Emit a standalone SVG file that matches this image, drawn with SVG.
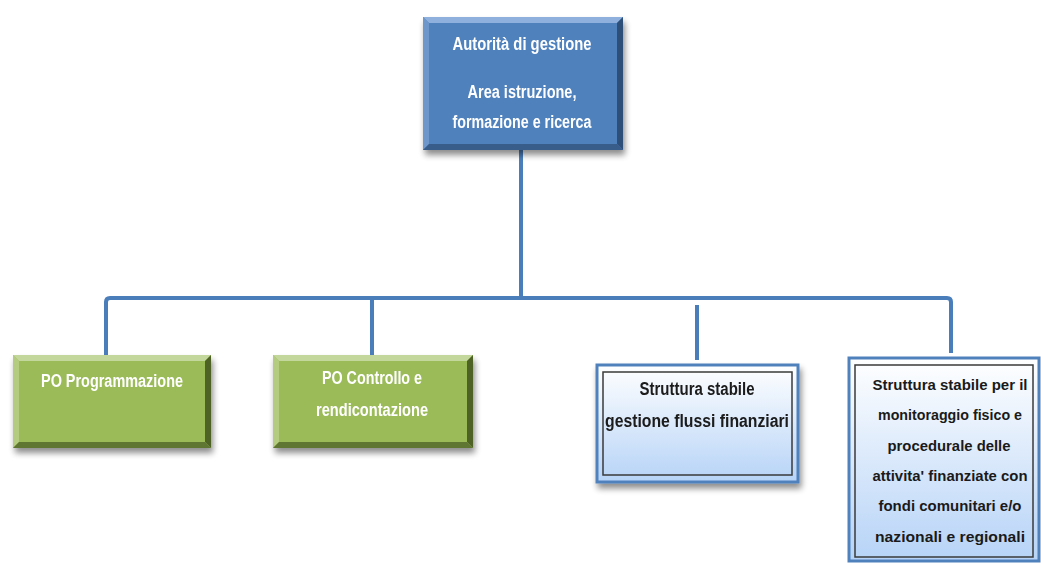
<svg xmlns="http://www.w3.org/2000/svg" width="1041" height="563" viewBox="0 0 1041 563">
<defs>
<filter id="sh" x="-10%" y="-10%" width="130%" height="130%">
<feGaussianBlur in="SourceAlpha" stdDeviation="3"/>
<feOffset dx="2" dy="5" result="b"/>
<feComponentTransfer><feFuncA type="linear" slope="0.45"/></feComponentTransfer>
<feMerge><feMergeNode/><feMergeNode in="SourceGraphic"/></feMerge>
</filter>
<linearGradient id="lb" x1="0" y1="0" x2="0" y2="1">
<stop offset="0" stop-color="#ffffff"/>
<stop offset="1" stop-color="#b6d3f7"/>
</linearGradient>
<style>
.w{fill:#ffffff;font-family:"Liberation Sans",Arial,sans-serif;font-weight:bold;font-size:18px;text-anchor:middle}
.d{fill:#1a1a1a;font-family:"Liberation Sans",Arial,sans-serif;font-weight:bold;font-size:18px;text-anchor:middle}
.s{font-size:15px}
.con{fill:none;stroke:#4a7ebb;stroke-width:4;stroke-linejoin:round;stroke-linecap:butt}
</style>
</defs>
<rect width="1041" height="563" fill="#ffffff"/>

<g id="connectors">
<path class="con" d="M521,150 V298"/>
<path class="con" d="M106,356 V302 Q106,298 110,298 H947 Q951,298 951,302 V353"/>
<path class="con" d="M372,298 V356"/>
<path class="con" d="M697,305 V360" stroke-width="5"/>
</g>

<g id="node-autorita" filter="url(#sh)">
<rect x="423" y="17" width="200" height="133" fill="#4f81bd"/>
<polygon points="423,17 623,17 617,23 429,23" fill="#8fb0dc"/>
<polygon points="423,17 429,23 429,144 423,150" fill="#6e98cc"/>
<polygon points="623,17 623,150 617,144 617,23" fill="#2f4f77"/>
<polygon points="423,150 623,150 617,144 429,144" fill="#385d8a"/>
<text class="w" x="522" y="50" textLength="139" lengthAdjust="spacingAndGlyphs">Autorità di gestione</text>
<text class="w" x="522" y="98" textLength="109" lengthAdjust="spacingAndGlyphs">Area istruzione,</text>
<text class="w" x="522" y="128" textLength="139" lengthAdjust="spacingAndGlyphs">formazione e ricerca</text>
</g>

<g id="node-po-programmazione" filter="url(#sh)">
<rect x="13" y="355" width="198" height="93" fill="#9bbb59"/>
<polygon points="13,355 211,355 205,361 19,361" fill="#c3d69b"/>
<polygon points="13,355 19,361 19,442 13,448" fill="#b3cc80"/>
<polygon points="211,355 211,448 205,442 205,361" fill="#4f6228"/>
<polygon points="13,448 211,448 205,442 19,442" fill="#5f7530"/>
<text class="w" x="112" y="387" textLength="142" lengthAdjust="spacingAndGlyphs">PO Programmazione</text>
</g>

<g id="node-po-controllo" filter="url(#sh)">
<rect x="273" y="355" width="200" height="93" fill="#9bbb59"/>
<polygon points="273,355 473,355 467,361 279,361" fill="#c3d69b"/>
<polygon points="273,355 279,361 279,442 273,448" fill="#b3cc80"/>
<polygon points="473,355 473,448 467,442 467,361" fill="#4f6228"/>
<polygon points="273,448 473,448 467,442 279,442" fill="#5f7530"/>
<text class="w" x="372" y="384" textLength="100" lengthAdjust="spacingAndGlyphs">PO Controllo e</text>
<text class="w" x="372" y="416" textLength="112" lengthAdjust="spacingAndGlyphs">rendicontazione</text>
</g>

<g id="node-flussi" filter="url(#sh)">
<rect x="597" y="365" width="201" height="117" fill="url(#lb)" stroke="#4f81bd" stroke-width="3"/>
<rect x="603" y="372" width="189" height="103" fill="none" stroke="#3a3a3a" stroke-width="1.5"/>
<text class="d" x="697" y="395" textLength="115" lengthAdjust="spacingAndGlyphs">Struttura stabile</text>
<text class="d" x="697" y="427" textLength="184" lengthAdjust="spacingAndGlyphs">gestione flussi finanziari</text>
</g>

<g id="node-monitoraggio">
<rect x="849" y="358" width="190" height="203" fill="url(#lb)" stroke="#4f81bd" stroke-width="3"/>
<rect x="855" y="365" width="178" height="192" fill="none" stroke="#3a3a3a" stroke-width="1.5"/>
<text class="d s" x="950" y="390" textLength="155" lengthAdjust="spacingAndGlyphs">Struttura stabile per il</text>
<text class="d s" x="950" y="420" textLength="144" lengthAdjust="spacingAndGlyphs">monitoraggio fisico e</text>
<text class="d s" x="949" y="451" textLength="123" lengthAdjust="spacingAndGlyphs">procedurale delle</text>
<text class="d s" x="950" y="481" textLength="155" lengthAdjust="spacingAndGlyphs">attivita' finanziate con</text>
<text class="d s" x="950" y="511" textLength="143" lengthAdjust="spacingAndGlyphs">fondi comunitari e/o</text>
<text class="d s" x="950" y="542" textLength="150" lengthAdjust="spacingAndGlyphs">nazionali e regionali</text>
</g>
</svg>
